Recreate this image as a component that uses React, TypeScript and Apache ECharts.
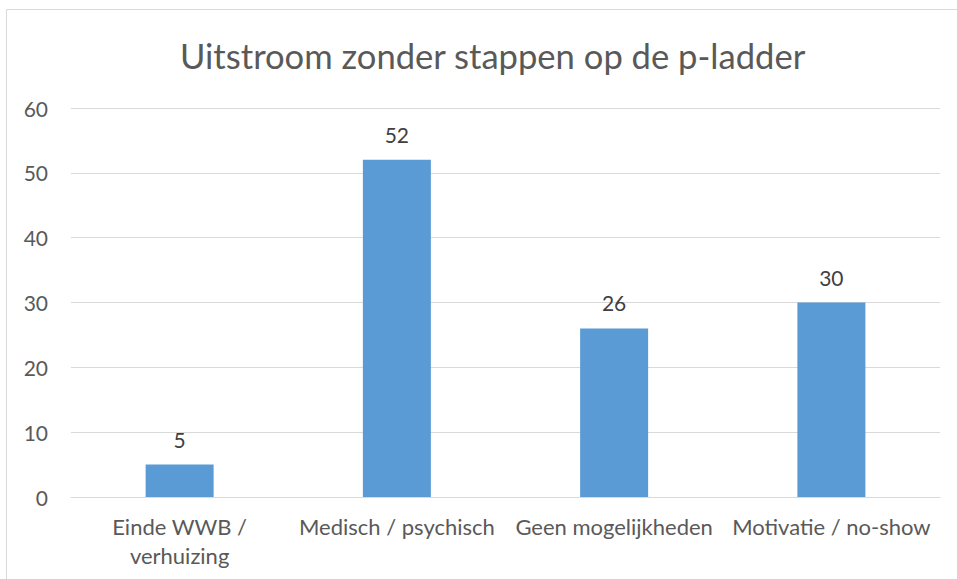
import React, { useEffect, useRef } from "react";
import * as echarts from "echarts";

const categories = ["Einde WWB /\nverhuizing", "Medisch / psychisch", "Geen mogelijkheden", "Motivatie / no-show"];
const values = [5, 52, 26, 30];
const titleText = "Uitstroom zonder stappen op de p-ladder";

export default function App() {
  const ref = useRef<HTMLDivElement>(null);
  useEffect(() => {
    const chart = echarts.init(ref.current!, null, { renderer: "svg" });
    const font = "Lato, 'Open Sans', sans-serif";
    chart.setOption({
      animation: false,
      backgroundColor: "#ffffff",
      title: {
        text: titleText,
        left: 175,
        top: 33,
        textStyle: { fontFamily: font, fontSize: 34.6, fontWeight: "normal", color: "#595959" },
      },
      graphic: [
        {
          type: "rect",
          shape: { x: 6.5, y: 9.5, width: 1000, height: 600 },
          style: { fill: "none", stroke: "#d9d9d9", lineWidth: 1 },
          silent: true,
        },
      ],
      grid: { left: 71, right: 17, top: 108, bottom: 82, containLabel: false },
      xAxis: {
        type: "category",
        data: categories,
        axisLine: { show: true, lineStyle: { color: "#d9d9d9", width: 1 } },
        axisTick: { show: false },
        axisLabel: { fontFamily: font, fontSize: 22, color: "#595959", margin: 15, lineHeight: 29, interval: 0 },
      },
      yAxis: {
        type: "value",
        min: 0,
        max: 60,
        interval: 10,
        axisLine: { show: false },
        axisTick: { show: false },
        splitLine: { lineStyle: { color: "#d9d9d9", width: 1 } },
        axisLabel: { fontFamily: font, fontSize: 21, color: "#595959", margin: 23 },
      },
      series: [
        {
          type: "bar",
          data: values,
          barWidth: 68,
          itemStyle: { color: "#5b9bd5" },
          label: { show: true, position: "top", distance: 15, fontFamily: font, fontSize: 21, color: "#404040" },
        },
      ],
    });
    return () => chart.dispose();
  }, []);
  return <div ref={ref} style={{ position: "absolute", left: 0, top: 0, width: 957, height: 579 }} />;
}
